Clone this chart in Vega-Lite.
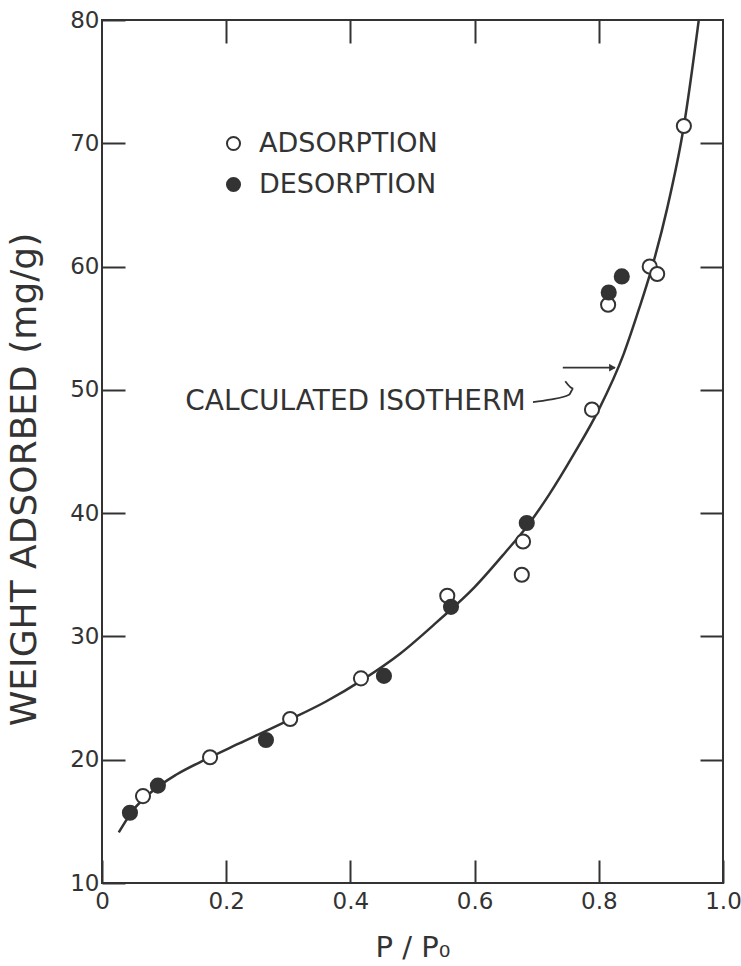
{
  "$schema": "https://vega.github.io/schema/vega-lite/v6.json",
  "width": 621,
  "height": 863,
  "autosize": {"type": "none"},
  "padding": {"left": 102, "top": 20, "right": 18, "bottom": 83},
  "background": "white",
  "config": {
    "view": {"stroke": "#333", "strokeWidth": 2},
    "font": "DejaVu Sans",
    "axis": {
      "domain": false,
      "grid": false,
      "tickColor": "#333",
      "tickWidth": 2,
      "tickSize": -23,
      "labelColor": "#333",
      "labelFont": "DejaVu Sans",
      "labelFontSize": 23,
      "titleColor": "#333",
      "titleFont": "DejaVu Sans",
      "titleFontWeight": "normal"
    }
  },
  "datasets": {
    "curve": [
      {"p": 0.027, "w": 14.1},
      {"p": 0.05, "w": 15.9},
      {"p": 0.08, "w": 17.4},
      {"p": 0.12, "w": 18.8},
      {"p": 0.17, "w": 20.1},
      {"p": 0.22, "w": 21.3},
      {"p": 0.3, "w": 23.2},
      {"p": 0.36, "w": 24.7},
      {"p": 0.42, "w": 26.5},
      {"p": 0.48, "w": 28.6},
      {"p": 0.54, "w": 31.2},
      {"p": 0.6, "w": 34.0},
      {"p": 0.65, "w": 36.85},
      {"p": 0.684, "w": 38.9},
      {"p": 0.72, "w": 41.5},
      {"p": 0.76, "w": 44.8},
      {"p": 0.8, "w": 48.4},
      {"p": 0.84, "w": 52.9},
      {"p": 0.865, "w": 56.6},
      {"p": 0.886, "w": 60.0},
      {"p": 0.91, "w": 64.7},
      {"p": 0.937, "w": 71.4},
      {"p": 0.961, "w": 80.0}
    ],
    "points": [
      {"p": 0.066, "w": 17.05, "type": "ADSORPTION"},
      {"p": 0.174, "w": 20.2, "type": "ADSORPTION"},
      {"p": 0.303, "w": 23.3, "type": "ADSORPTION"},
      {"p": 0.417, "w": 26.6, "type": "ADSORPTION"},
      {"p": 0.556, "w": 33.3, "type": "ADSORPTION"},
      {"p": 0.678, "w": 37.7, "type": "ADSORPTION"},
      {"p": 0.676, "w": 35.0, "type": "ADSORPTION"},
      {"p": 0.789, "w": 48.4, "type": "ADSORPTION"},
      {"p": 0.815, "w": 56.9, "type": "ADSORPTION"},
      {"p": 0.882, "w": 60.0, "type": "ADSORPTION"},
      {"p": 0.894, "w": 59.4, "type": "ADSORPTION"},
      {"p": 0.937, "w": 71.4, "type": "ADSORPTION"},
      {"p": 0.045, "w": 15.7, "type": "DESORPTION"},
      {"p": 0.09, "w": 17.9, "type": "DESORPTION"},
      {"p": 0.264, "w": 21.6, "type": "DESORPTION"},
      {"p": 0.454, "w": 26.8, "type": "DESORPTION"},
      {"p": 0.562, "w": 32.4, "type": "DESORPTION"},
      {"p": 0.684, "w": 39.2, "type": "DESORPTION"},
      {"p": 0.816, "w": 57.9, "type": "DESORPTION"},
      {"p": 0.837, "w": 59.2, "type": "DESORPTION"}
    ],
    "connector": [
      {"p": 0.694, "w": 49.0, "seg": "a", "o": 1},
      {"p": 0.721, "w": 49.2, "seg": "a", "o": 2},
      {"p": 0.752, "w": 49.6, "seg": "a", "o": 3},
      {"p": 0.759, "w": 50.1, "seg": "a", "o": 4},
      {"p": 0.746, "w": 50.7, "seg": "a", "o": 5},
      {"p": 0.742, "w": 51.8, "seg": "b", "o": 1},
      {"p": 0.826, "w": 51.8, "seg": "b", "o": 2}
    ],
    "arrowhead": [{"p": 0.822, "w": 51.8}],
    "label": [{"p": 0.134, "w": 49.0, "t": "CALCULATED ISOTHERM"}]
  },
  "layer": [
    {
      "data": {"name": "curve"},
      "mark": {"type": "line", "color": "#333", "strokeWidth": 2.5, "interpolate": "monotone"},
      "encoding": {
        "x": {
          "field": "p", "type": "quantitative",
          "scale": {"domain": [0, 1], "nice": false, "zero": false},
          "axis": {
            "orient": "bottom",
            "title": "P / P₀",
            "titleFontSize": 29,
            "titlePadding": 20,
            "values": [0, 0.2, 0.4, 0.6, 0.8, 1.0],
            "labelExpr": "datum.value == 0 ? '0' : format(datum.value, '.1f')",
            "labelPadding": 30,
            "labelFlush": false
          }
        },
        "y": {
          "field": "w", "type": "quantitative",
          "scale": {"domain": [10, 80], "nice": false, "zero": false},
          "axis": {
            "orient": "left",
            "title": "WEIGHT ADSORBED (mg/g)",
            "titleFontSize": 36,
            "titlePadding": 26,
            "titleY": 459,
            "values": [10, 20, 30, 40, 50, 60, 70, 80],
            "labelPadding": 26,
            "labelFlush": false
          }
        }
      }
    },
    {
      "data": {"name": "points"},
      "mark": {"type": "point", "shape": "circle", "filled": true, "stroke": "#333", "strokeWidth": 2, "size": 200, "opacity": 1},
      "encoding": {
        "x": {
          "field": "p", "type": "quantitative",
          "axis": {"orient": "top", "title": null, "labels": false, "values": [0.2, 0.4, 0.6, 0.8]}
        },
        "y": {
          "field": "w", "type": "quantitative",
          "axis": {"orient": "right", "title": null, "labels": false, "values": [20, 30, 40, 50, 60, 70]}
        },
        "fill": {
          "field": "type", "type": "nominal",
          "scale": {"domain": ["ADSORPTION", "DESORPTION"], "range": ["white", "#333"]},
          "legend": {
            "orient": "none",
            "legendX": 118,
            "legendY": 110,
            "title": null,
            "padding": 0,
            "symbolType": "circle",
            "symbolSize": 170,
            "symbolStrokeColor": "#333",
            "symbolStrokeWidth": 2,
            "labelFontSize": 27,
            "labelColor": "#333",
            "labelFont": "DejaVu Sans",
            "labelLimit": 400,
            "labelOffset": 12,
            "rowPadding": 13
          }
        }
      }
    },
    {
      "data": {"name": "connector"},
      "mark": {"type": "line", "color": "#333", "strokeWidth": 1.8, "interpolate": "monotone"},
      "encoding": {
        "x": {"field": "p", "type": "quantitative", "axis": null},
        "y": {"field": "w", "type": "quantitative", "axis": null},
        "detail": {"field": "seg"},
        "order": {"field": "o"}
      }
    },
    {
      "data": {"name": "arrowhead"},
      "mark": {"type": "point", "shape": "triangle-right", "filled": true, "color": "#333", "size": 60, "opacity": 1},
      "encoding": {
        "x": {"field": "p", "type": "quantitative", "axis": null},
        "y": {"field": "w", "type": "quantitative", "axis": null}
      }
    },
    {
      "data": {"name": "label"},
      "mark": {"type": "text", "align": "left", "baseline": "middle", "fontSize": 28, "color": "#333", "font": "DejaVu Sans"},
      "encoding": {
        "x": {"field": "p", "type": "quantitative", "axis": null},
        "y": {"field": "w", "type": "quantitative", "axis": null},
        "text": {"field": "t"}
      }
    }
  ],
  "resolve": {"axis": {"x": "independent", "y": "independent"}}
}
